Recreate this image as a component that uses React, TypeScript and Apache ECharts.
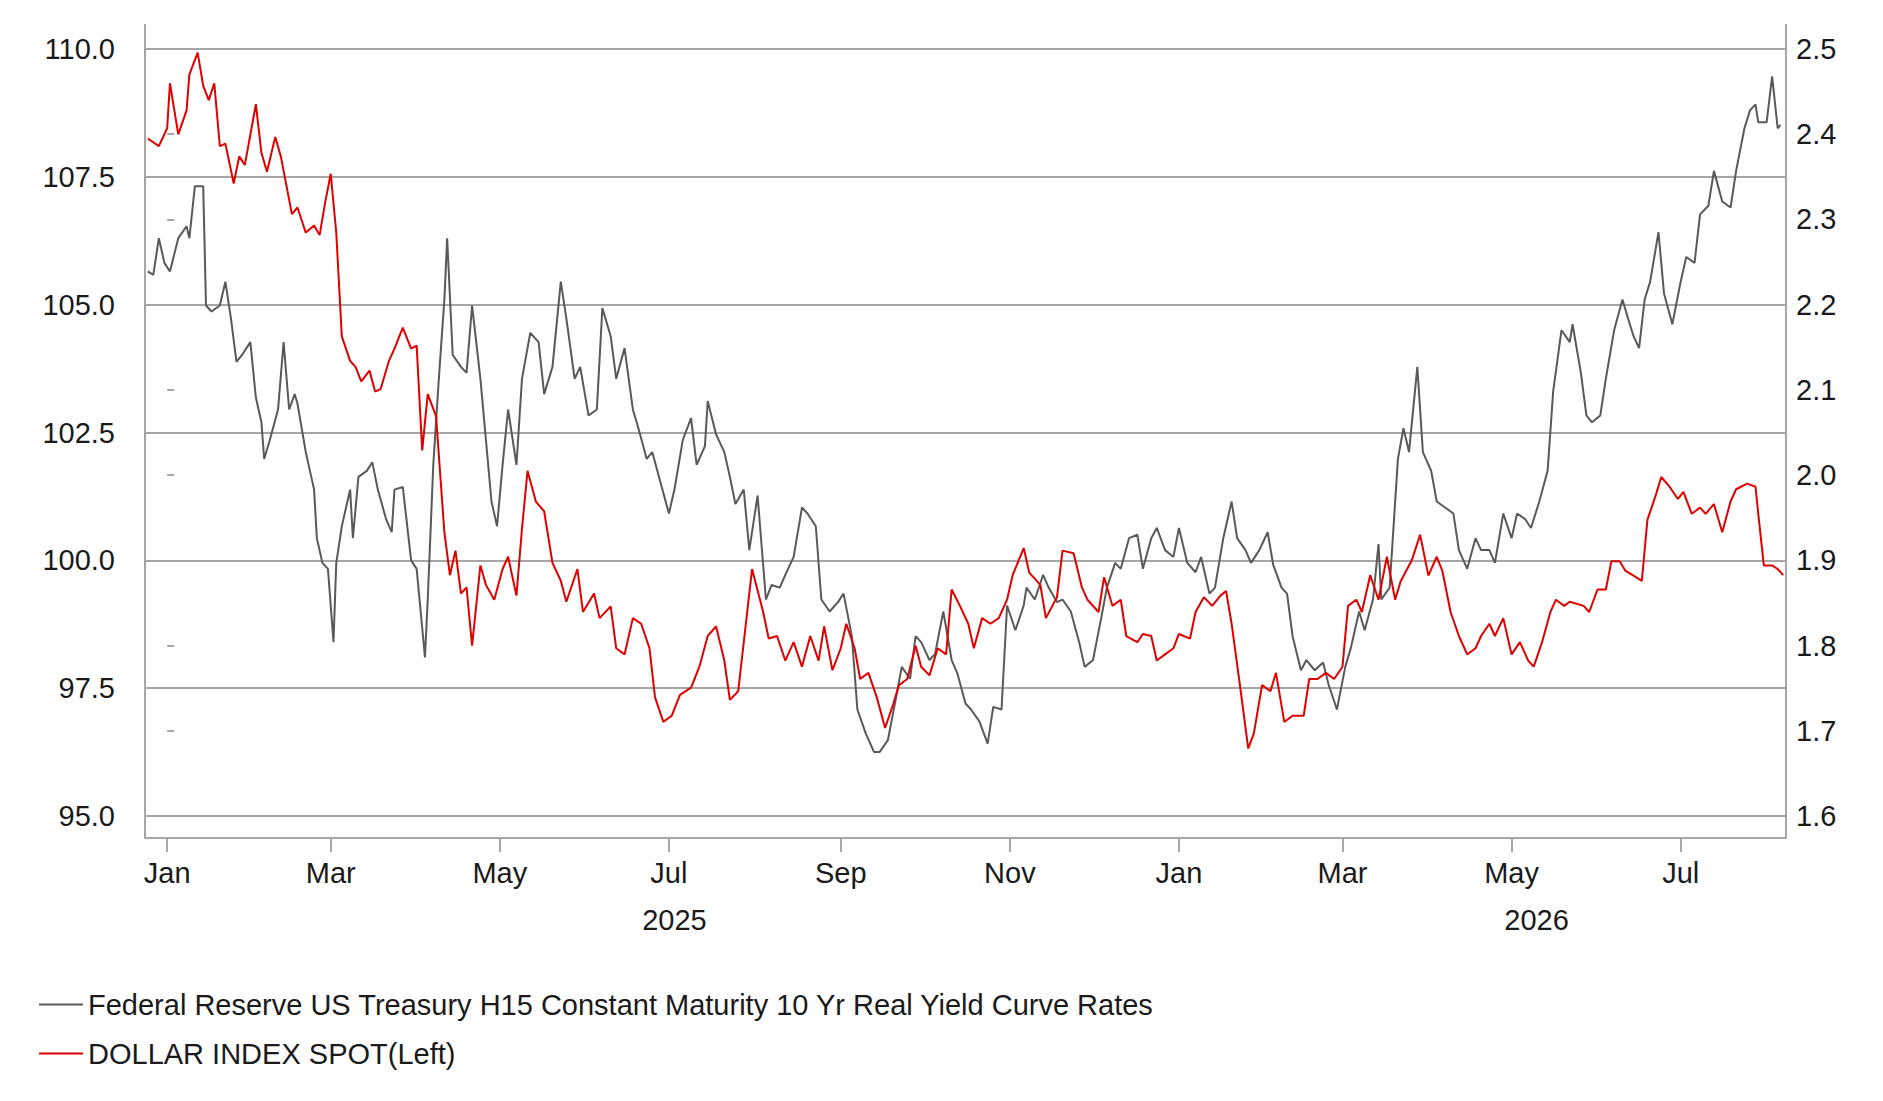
import { useEffect, useRef } from 'react';
import * as echarts from 'echarts';

// days after 2025-01-01 / values
const dxyDays = [-7,-5,-3,-1,1,4,7,8,10,13,14,16,19,21,23,25,27,30,32,34,35,37,40,42,44,46,47,50,53,54,56,58,60,61,63,66,67,69,72,74,76,79,81,82,85,88,90,93,94,96,98,100,101,103,106,108,110,113,115,117,119,121,123,126,128,131,134,136,139,142,144,147,149,152,155,157,160,162,165,168,170,173,175,178,181,183,186,189,191,194,195,198,201,203,205,208,210,213,216,218,221,223,226,229,231,234,236,239,242,244,247,249,252,255,257,260,263,265,268,270,272,275,277,280,283,285,288,290,293,296,298,301,303,306,309,310,313,316,318,321,323,326,329,331,334,337,339,342,344,347,350,352,355,357,360,363,365,368,371,373,376,378,381,384,386,389,391,394,397,399,402,404,406,409,411,414,417,419,422,425,427,430,432,435,437,438,441,444,446,448,451,453,456,458,461,464,466,469,472,474,477,479,482,485,487,490,492,495,498,500,503,506,507,510,512,514,517,519,522,525,527,529,531,533,535,538,540,543,546,548,551,553,556,558,561,564,566,569,571,573,574,577,579,581,582];
const realYield = [2.239,2.235,2.278,2.249,2.239,2.278,2.292,2.278,2.339,2.339,2.199,2.192,2.199,2.227,2.184,2.133,2.141,2.156,2.091,2.062,2.019,2.041,2.077,2.156,2.077,2.095,2.084,2.027,1.983,1.926,1.897,1.890,1.804,1.897,1.940,1.983,1.926,1.998,2.005,2.015,1.983,1.948,1.933,1.983,1.986,1.900,1.890,1.786,1.854,2.012,2.113,2.206,2.278,2.141,2.127,2.120,2.199,2.113,2.041,1.969,1.940,2.012,2.077,2.012,2.113,2.167,2.156,2.095,2.127,2.227,2.184,2.113,2.127,2.070,2.077,2.196,2.163,2.113,2.149,2.077,2.055,2.019,2.027,1.991,1.955,1.983,2.041,2.067,2.012,2.034,2.087,2.048,2.027,1.998,1.966,1.983,1.912,1.976,1.854,1.871,1.868,1.883,1.904,1.962,1.955,1.940,1.854,1.840,1.851,1.861,1.811,1.725,1.697,1.675,1.675,1.689,1.740,1.775,1.761,1.811,1.804,1.783,1.790,1.840,1.783,1.768,1.732,1.725,1.711,1.685,1.728,1.725,1.847,1.818,1.847,1.868,1.854,1.883,1.868,1.851,1.854,1.840,1.804,1.775,1.783,1.833,1.868,1.897,1.890,1.926,1.930,1.890,1.926,1.938,1.912,1.904,1.938,1.897,1.886,1.904,1.861,1.868,1.926,1.969,1.926,1.912,1.897,1.912,1.933,1.895,1.868,1.861,1.811,1.771,1.783,1.771,1.780,1.754,1.725,1.775,1.797,1.840,1.818,1.854,1.919,1.854,1.868,2.019,2.055,2.027,2.127,2.027,2.005,1.969,1.962,1.955,1.912,1.890,1.926,1.912,1.912,1.897,1.955,1.926,1.955,1.948,1.938,1.969,2.005,2.098,2.170,2.156,2.177,2.120,2.070,2.062,2.070,2.113,2.170,2.206,2.184,2.163,2.149,2.206,2.227,2.285,2.213,2.177,2.227,2.256,2.249,2.306,2.316,2.357,2.321,2.314,2.357,2.407,2.428,2.435,2.414,2.414,2.468,2.407,2.411];

const dxDays = [-7,-3,0,1,4,7,8,11,13,15,17,19,21,24,26,28,32,34,36,39,41,45,47,50,53,55,57,59,61,63,66,68,70,73,75,77,80,82,85,88,90,92,94,97,100,102,104,106,108,110,113,115,118,121,123,126,128,130,133,136,139,142,144,148,150,154,156,160,162,165,168,171,174,176,179,182,185,189,192,195,198,201,203,206,209,211,215,217,220,223,226,229,232,235,237,240,243,245,248,250,253,256,259,262,264,267,270,272,275,278,281,283,286,289,291,294,297,300,303,305,309,311,315,317,321,323,327,330,332,336,338,341,344,346,350,352,355,357,360,363,365,369,371,374,377,380,382,384,387,390,392,395,398,400,403,406,410,412,415,418,421,424,426,429,431,434,437,440,443,445,449,452,455,458,460,463,466,469,472,474,477,479,482,485,488,491,493,496,499,501,504,506,511,513,516,519,521,524,526,529,532,534,537,539,542,545,547,550,553,555,558,561,564,566,570,573,574,576,579,581,583];
const dollarIndex = [108.25,108.1,108.45,109.33,108.33,108.8,109.5,109.93,109.28,109.0,109.33,108.1,108.15,107.37,107.9,107.73,108.92,107.97,107.6,108.28,107.9,106.77,106.9,106.41,106.55,106.36,107.0,107.56,106.41,104.38,103.9,103.78,103.5,103.71,103.3,103.35,103.9,104.14,104.55,104.14,104.2,102.15,103.25,102.82,100.55,99.71,100.19,99.35,99.47,98.33,99.9,99.52,99.23,99.83,100.07,99.31,100.62,101.75,101.15,100.96,99.95,99.6,99.19,99.83,98.99,99.35,98.87,99.1,98.28,98.16,98.87,98.76,98.28,97.32,96.84,96.96,97.37,97.51,97.92,98.52,98.71,98.04,97.27,97.44,98.87,99.83,98.99,98.47,98.52,98.04,98.4,97.92,98.52,98.04,98.71,97.85,98.28,98.76,98.28,97.68,97.8,97.32,96.72,97.2,97.56,97.68,98.33,97.92,97.75,98.28,98.16,99.43,99.11,98.76,98.28,98.87,98.76,98.87,99.23,99.71,100.24,99.76,99.52,98.87,99.28,100.19,100.14,99.47,99.23,98.99,99.67,99.11,99.23,98.52,98.4,98.56,98.52,98.04,98.16,98.28,98.56,98.47,98.99,99.28,99.11,99.31,99.4,98.76,97.56,96.32,96.61,97.56,97.44,97.8,96.84,96.96,96.96,97.68,97.68,97.8,97.68,97.92,99.11,99.23,98.99,99.71,99.23,100.07,99.23,99.59,100.0,100.5,99.7,100.07,99.8,98.99,98.52,98.16,98.28,98.52,98.76,98.52,98.87,98.16,98.4,98.04,97.92,98.4,98.99,99.23,99.11,99.19,99.11,98.99,99.43,99.43,99.98,99.98,99.8,99.7,99.6,100.79,101.27,101.63,101.44,101.2,101.34,100.91,101.03,100.91,101.1,100.55,101.15,101.39,101.5,101.44,100.91,99.9,99.9,99.83,99.71];

// month ticks and year labels, as days after 2025-01-01
const monthTickDays = [0, 59, 120, 181, 243, 304, 365, 424, 485, 546];
const monthTickLabels = ['Jan', 'Mar', 'May', 'Jul', 'Sep', 'Nov', 'Jan', 'Mar', 'May', 'Jul'];
const yearLabelDays = [183, 494];
const yearLabels = ['2025', '2026'];

const FONT = 'Liberation Sans';
const AXIS_GRAY = '#a6a6a6';
const SERIES_GRAY = 'Federal Reserve US Treasury H15 Constant Maturity 10 Yr Real Yield Curve Rates';
const SERIES_RED = 'DOLLAR INDEX SPOT(Left)';

export default function App() {
  const ref = useRef<HTMLDivElement>(null);

  useEffect(() => {
    document.body.style.margin = '0';
    if (!ref.current) return;
    const chart = echarts.init(ref.current, undefined, { renderer: 'svg' });
    const label = { color: '#1a1a1a', fontSize: 29, fontFamily: FONT };

    chart.setOption({
      animation: false,
      grid: { left: 145, right: 97, top: 49, bottom: 285 },
      xAxis: [
        {
          type: 'value',
          min: -8,
          max: 584,
          offset: 22,
          axisLine: { lineStyle: { color: AXIS_GRAY, width: 2 } },
          axisTick: { show: true, customValues: monthTickDays, length: 14, lineStyle: { color: AXIS_GRAY, width: 2 } },
          axisLabel: {
            ...label,
            customValues: monthTickDays,
            margin: 20,
            formatter: (v: number) => monthTickLabels[monthTickDays.indexOf(v)] ?? '',
          },
          splitLine: { show: false },
        },
        {
          type: 'value',
          position: 'bottom',
          min: -8,
          max: 584,
          offset: 22,
          axisLine: { show: false },
          axisTick: { show: false },
          axisLabel: {
            ...label,
            customValues: yearLabelDays,
            margin: 67,
            formatter: (v: number) => yearLabels[yearLabelDays.indexOf(v)] ?? '',
          },
          splitLine: { show: false },
        },
      ],
      yAxis: [
        {
          type: 'value',
          min: 95,
          max: 110,
          interval: 2.5,
          axisLine: { show: false },
          axisTick: { show: false },
          axisLabel: { ...label, margin: 30, formatter: (v: number) => v.toFixed(1) },
          splitLine: { lineStyle: { color: AXIS_GRAY, width: 2 } },
        },
        {
          type: 'value',
          min: 1.6,
          max: 2.5,
          interval: 0.1,
          position: 'right',
          axisLine: { show: false },
          axisTick: { show: true, length: 7, lineStyle: { color: AXIS_GRAY, width: 2 } },
          axisLabel: { ...label, margin: 10, formatter: (v: number) => v.toFixed(1) },
          splitLine: { show: false },
        },
      ],
      legend: {
        orient: 'vertical',
        left: 34,
        top: 985,
        itemWidth: 44,
        itemHeight: 2,
        itemGap: 20,
        icon: 'rect',
        textStyle: { ...label },
        data: [SERIES_GRAY, SERIES_RED],
      },
      graphic: [
        { type: 'line', shape: { x1: 145, y1: 24, x2: 145, y2: 838 }, style: { stroke: AXIS_GRAY, lineWidth: 2 } },
        { type: 'line', shape: { x1: 1786, y1: 24, x2: 1786, y2: 838 }, style: { stroke: AXIS_GRAY, lineWidth: 2 } },
      ],
      series: [
        {
          name: SERIES_GRAY,
          type: 'line',
          xAxisIndex: 0,
          yAxisIndex: 1,
          showSymbol: false,
          symbol: 'none',
          color: '#595959',
          lineStyle: { width: 2, color: '#595959' },
          data: dxyDays.map((d, i) => [d, realYield[i]]),
        },
        {
          name: SERIES_RED,
          type: 'line',
          xAxisIndex: 0,
          yAxisIndex: 0,
          showSymbol: false,
          symbol: 'none',
          color: '#e00000',
          lineStyle: { width: 2, color: '#e00000' },
          data: dxDays.map((d, i) => [d, dollarIndex[i]]),
        },
      ],
    });

    return () => chart.dispose();
  }, []);

  return <div ref={ref} style={{ width: 1883, height: 1101 }} />;
}
